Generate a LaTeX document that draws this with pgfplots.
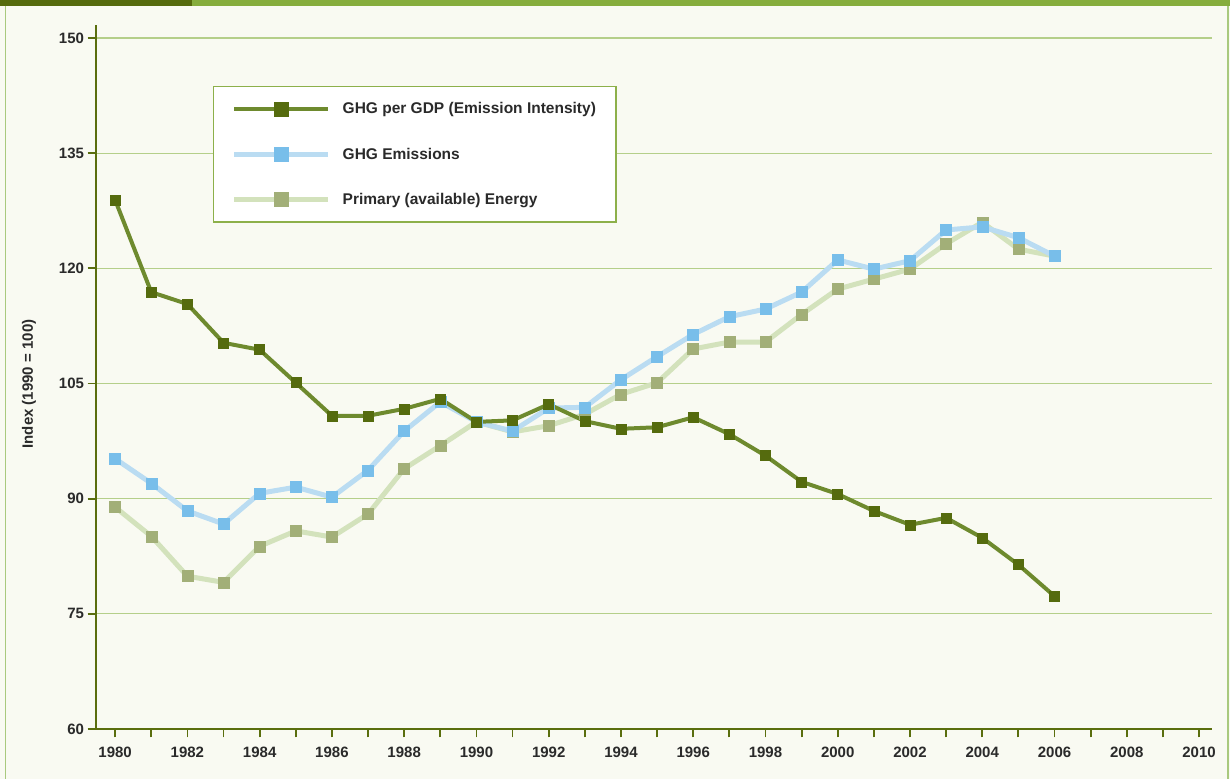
\documentclass[border=0pt]{standalone}
\usepackage{fontspec}
\setmainfont{Liberation Sans}
\usepackage{pgfplots}
\pgfplotsset{compat=1.18}

\definecolor{bgcol}{HTML}{F9FAF2}
\definecolor{gridcol}{HTML}{B5CF8A}
\definecolor{axiscol}{HTML}{5A6E0E}
\definecolor{darkline}{HTML}{6E8A2E}
\definecolor{darkmark}{HTML}{556B0E}
\definecolor{blueline}{HTML}{BADCF2}
\definecolor{bluemark}{HTML}{78BEEA}
\definecolor{lightline}{HTML}{D3E2BC}
\definecolor{lightmark}{HTML}{A2AF78}
\definecolor{legendcol}{HTML}{8DB04A}
\definecolor{topdark}{HTML}{566B0D}
\definecolor{toplight}{HTML}{86AD3D}
\definecolor{sidecol}{HTML}{A9C97E}
\definecolor{labelcol}{HTML}{2A2A2A}

\begin{document}
\begin{tikzpicture}[x=1bp,y=1bp]
% page background and frame
\fill[bgcol] (0,0) rectangle (1230,779);
\fill[toplight] (0,773) rectangle (1230,779);
\fill[topdark] (0,773) rectangle (192,779);
\draw[sidecol, line width=1.5bp] (5.5,0) -- (5.5,773);
\draw[sidecol, line width=1.5bp] (1228,0) -- (1228,773);

\begin{axis}[
    at={(96bp,50bp)}, anchor=south west,
    scale only axis,
    width=1116bp, height=704bp,
    xmin=1979.47, xmax=2010.36,
    ymin=60, ymax=151.7,
    axis lines*=left,
    axis line style={axiscol, line width=1.8bp},
    xtick={1980,1982,...,2010},
    minor xtick={1981,1983,...,2009},
    ytick={60,75,...,150},
    tick align=outside,
    major tick length=8.5bp, minor tick length=8.5bp,
    tick style={axiscol, line width=1.8bp},
    ymajorgrids,
    grid style={gridcol, line width=1.3bp},
    /pgf/number format/assume math mode=true,
    /pgf/number format/set thousands separator={},
    ticklabel style={font=\fontsize{15bp}{18bp}\selectfont\bfseries, text=labelcol},
    xticklabel style={yshift=-6bp},
    ylabel={Index (1990 = 100)},
    ylabel style={font=\fontsize{15bp}{18bp}\selectfont\bfseries, text=labelcol,
        at={(axis description cs:-0.06,0.49)}, anchor=center},
    reverse legend,
    legend style={at={(rel axis cs:0.1048,0.9134)}, anchor=north west,
        draw=legendcol, line width=1.5bp, fill=white,
        font=\fontsize{15.5bp}{18bp}\selectfont\bfseries, text=labelcol,
        inner xsep=18bp, inner ysep=14bp, row sep=28.5bp,
        cells={anchor=west}},
    legend image code/.code={
        \draw[mark repeat=2, mark phase=2, #1, mark size=6.8bp]
            plot coordinates {(0bp,0bp) (47bp,0bp) (94bp,0bp)};
        \path (104bp,0bp);
    },
]

% Primary (available) Energy
\addplot[lightline, line width=5bp, mark=square*,
    mark options={fill=lightmark, draw=lightmark, line width=0.5bp}, mark size=5.5bp]
coordinates {
(1980,88.9) (1981,85.1) (1982,79.9) (1983,79.1) (1984,83.8) (1985,85.8)
(1986,85.0) (1987,88.0) (1988,93.9) (1989,96.9) (1990,100.0) (1991,98.7)
(1992,99.5) (1993,101.0) (1994,103.6) (1995,105.1) (1996,109.5) (1997,110.4)
(1998,110.4) (1999,114.0) (2000,117.3) (2001,118.6) (2002,119.9) (2003,123.2)
(2004,126.0) (2005,122.5) (2006,121.6)
};
\addlegendentry{Primary (available) Energy}

% GHG Emissions
\addplot[blueline, line width=5bp, mark=square*,
    mark options={fill=bluemark, draw=bluemark, line width=0.5bp}, mark size=5.5bp]
coordinates {
(1980,95.2) (1981,92.0) (1982,88.4) (1983,86.7) (1984,90.7) (1985,91.5)
(1986,90.2) (1987,93.7) (1988,98.8) (1989,102.6) (1990,100.0) (1991,98.8)
(1992,101.8) (1993,101.9) (1994,105.5) (1995,108.5) (1996,111.4) (1997,113.7)
(1998,114.7) (1999,116.9) (2000,121.1) (2001,119.9) (2002,121.0) (2003,125.0)
(2004,125.4) (2005,124.0) (2006,121.6)
};
\addlegendentry{GHG Emissions}

% GHG per GDP (Emission Intensity)
\addplot[darkline, line width=4bp, mark=square*,
    mark options={fill=darkmark, draw=darkmark, line width=0.5bp}, mark size=5bp]
coordinates {
(1980,128.9) (1981,116.9) (1982,115.35) (1983,110.3) (1984,109.4) (1985,105.1)
(1986,100.8) (1987,100.8) (1988,101.7) (1989,103.0) (1990,100.0) (1991,100.2)
(1992,102.3) (1993,100.1) (1994,99.1) (1995,99.3) (1996,100.6) (1997,98.4)
(1998,95.6) (1999,92.2) (2000,90.6) (2001,88.4) (2002,86.6) (2003,87.5)
(2004,84.9) (2005,81.4) (2006,77.3)
};
\addlegendentry{GHG per GDP (Emission Intensity)}

\end{axis}
\end{tikzpicture}
\end{document}
